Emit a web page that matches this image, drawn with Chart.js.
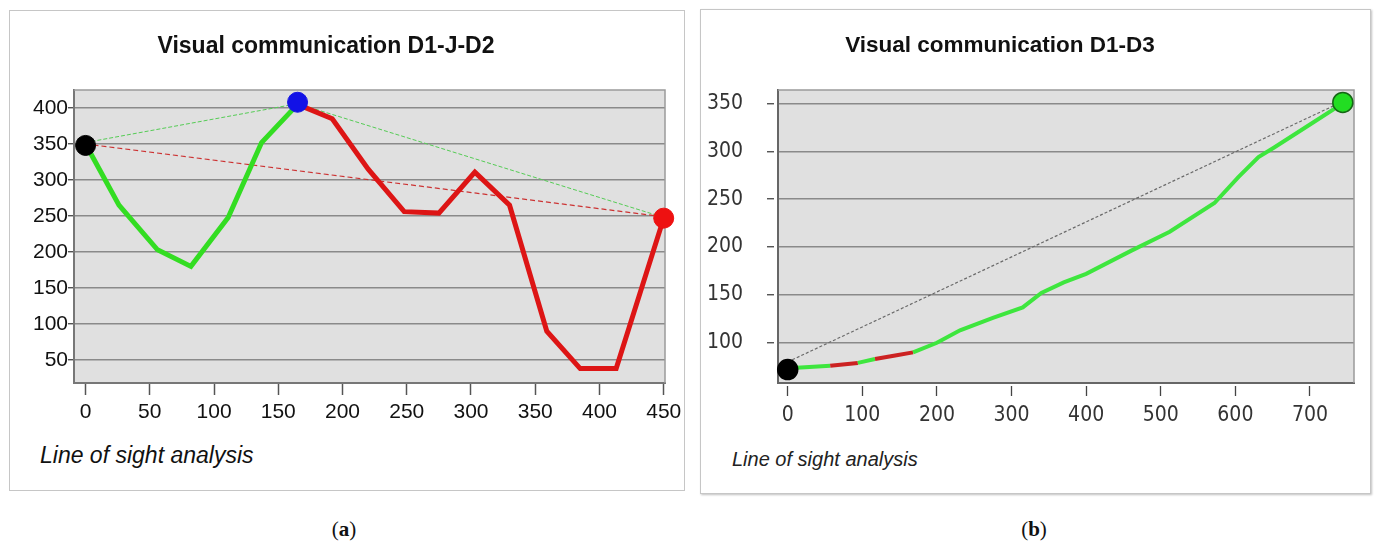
<!DOCTYPE html>
<html><head><meta charset="utf-8">
<script src="https://cdn.jsdelivr.net/npm/chart.js@4.4.1/dist/chart.umd.min.js"></script>
<style>
html,body{margin:0;padding:0;background:#fff;width:1378px;height:547px;overflow:hidden;font-family:'Liberation Sans',Arial,sans-serif;}
.frame{position:absolute;border:1px solid #c6c6c6;box-sizing:border-box;background:#fff;}
#fa{left:9px;top:10px;width:676px;height:481px;}
#fb{left:700px;top:9px;width:671px;height:485px;box-shadow:1px 1px 2px #c0c0c0;}
canvas{position:absolute;}
#ca{left:10px;top:11px;}
#cb{left:701px;top:11px;}
.t{position:absolute;white-space:nowrap;color:#111;line-height:1;}
.title{font-weight:bold;transform:translateX(-50%);}
#ta{left:326px;top:34px;font-size:23px;}
#tb{left:1000px;top:34px;font-size:22.5px;}
#la{left:40px;top:444px;font-size:23px;font-style:italic;}
#lb{left:732px;top:449px;font-size:20px;font-style:italic;color:#222;}
.cap{font-family:'Liberation Serif','Times New Roman',serif;font-size:21px;transform:translateX(-50%);top:519px;}
.cap b{font-weight:bold;}
#capa{left:344px;}
#capb{left:1034px;}
</style></head>
<body>
<div class="frame" id="fa"></div>
<div class="frame" id="fb"></div>
<canvas id="ca" width="676" height="420"></canvas>
<canvas id="cb" width="668" height="420"></canvas>
<div class="t title" id="ta">Visual communication D1-J-D2</div>
<div class="t title" id="tb">Visual communication D1-D3</div>
<div class="t" id="la">Line of sight analysis</div>
<div class="t" id="lb">Line of sight analysis</div>
<div class="t cap" id="capa">(<b>a</b>)</div>
<div class="t cap" id="capb">(<b>b</b>)</div>
<script>
// ---------- Panel (a): D1-J-D2 ----------
const aDist    = [0, 26, 56, 82, 111, 137, 165, 192, 220, 248, 275, 303, 330, 359, 385, 413, 450];
const aElev    = [350, 265, 203, 180, 248, 352, 405, 385, 315, 256, 254, 311, 265, 90, 38, 38, 247];
const aVisible = [1, 1, 1, 1, 1, 1, 0, 0, 0, 0, 0, 0, 0, 0, 0, 0]; // per segment
const aSightGreenX = [0, 165, 450];
const aSightGreenY = [352, 406, 248];
const aSightRedX = [0, 445];
const aSightRedY = [350, 250];
const aMarkX = [0, 165, 450];
const aMarkY = [348, 408, 247];
const aMarkColor = ['#000000', '#1212e6', '#ee1111'];
const aXTicks = [0, 50, 100, 150, 200, 250, 300, 350, 400, 450];
const aYTicks = [50, 100, 150, 200, 250, 300, 350, 400];

// ---------- Panel (b): D1-D3 ----------
const bDist    = [0, 12, 57, 94, 117, 146, 168, 200, 231, 275, 315, 340, 370, 400, 460, 512, 572, 604, 631, 652, 700, 744];
const bElev    = [73, 74, 76, 79, 83, 87, 90, 100, 113, 126, 137, 152, 163, 172, 196, 216, 246, 273, 294, 304, 328, 350];
const bVisible = [1, 1, 0, 1, 0, 0, 1, 1, 1, 1, 1, 1, 1, 1, 1, 1, 1, 1, 1, 1, 1];
const bSightX = [0, 744];
const bSightY = [80, 352];
const bMarkX = [0, 744];
const bMarkY = [72, 351];
const bMarkColor = ['#000000', '#22dd22'];
const bMarkBorder = ['#000000', '#156615'];
const bXTicks = [0, 100, 200, 300, 400, 500, 600, 700];
const bYTicks = [100, 150, 200, 250, 300, 350];

const pts = (xs, ys) => xs.map((x, i) => ({x: x, y: ys[i]}));
const setTicks = list => scale => { scale.ticks = list.map(v => ({value: v})); };

const plotFrame = {
  id: 'plotFrame',
  beforeDraw(chart) {
    const a = chart.chartArea, c = chart.ctx;
    c.save();
    c.fillStyle = '#e0e0e0';
    c.fillRect(a.left, a.top, a.right - a.left, a.bottom - a.top);
    c.restore();
  },
  beforeDatasetsDraw(chart) {
    const a = chart.chartArea, c = chart.ctx;
    c.save();
    c.strokeStyle = '#9a9a9a';
    c.lineWidth = 1.5;
    c.beginPath();
    c.moveTo(a.left, a.top); c.lineTo(a.right, a.top); c.lineTo(a.right, a.bottom);
    c.stroke();
    c.restore();
  }
};

const common = {
  responsive: false,
  devicePixelRatio: 1,
  animation: false,
  events: [],
  plugins: {legend: {display: false}, tooltip: {enabled: false}, title: {display: false}},
};

const fitX = h => s => { s.height = h; s.paddingLeft = 0; s.paddingRight = 0; };

// Chart (a)
const aGreen = '#33dd22', aRed = '#dd1515';
const fontA = {family: "'Liberation Sans', Arial, sans-serif", size: 21};
new Chart(document.getElementById('ca'), {
  type: 'line',
  data: {
    datasets: [
      {data: pts(aMarkX, aMarkY), showLine: false, pointRadius: 10, pointBackgroundColor: aMarkColor,
       pointBorderColor: aMarkColor, pointBorderWidth: 1, clip: false, order: 0},
      {data: pts(aDist, aElev), borderWidth: 5, pointRadius: 0, borderJoinStyle: 'miter', tension: 0,
       borderColor: aGreen,
       segment: {borderColor: ctx => aVisible[ctx.p0DataIndex] ? aGreen : aRed}, order: 1},
      {data: pts(aSightGreenX, aSightGreenY), borderWidth: 1, borderColor: '#55cc55', borderDash: [4, 2],
       pointRadius: 0, order: 2},
      {data: pts(aSightRedX, aSightRedY), borderWidth: 1.2, borderColor: '#cc3333', borderDash: [5, 3],
       pointRadius: 0, order: 3}
    ]
  },
  options: Object.assign({}, common, {
    layout: {padding: {top: 79, right: 21, left: 0, bottom: 0}},
    scales: {
      x: {type: 'linear', min: -9, max: 451,
          afterBuildTicks: setTicks(aXTicks),
          afterFit: fitX(48),
          grid: {drawOnChartArea: false, drawTicks: true, tickLength: 12, tickColor: '#555', tickWidth: 1.5},
          border: {color: '#777', width: 2},
          ticks: {padding: 5, color: '#111', maxRotation: 0, autoSkip: false, font: fontA}},
      y: {type: 'linear', min: 18, max: 425,
          afterBuildTicks: setTicks(aYTicks),
          afterFit: s => { s.width = 64; },
          grid: {color: '#8a8a8a', lineWidth: 1.5, drawTicks: true, tickLength: 6, tickColor: '#333', tickWidth: 1.2},
          border: {color: '#777', width: 2},
          ticks: {padding: 0, color: '#111', autoSkip: false, font: fontA}}
    }
  }),
  plugins: [plotFrame]
});

// Chart (b)
const bGreen = '#3ee63e', bRed = '#cc2222';
const fontB = {family: "'Liberation Sans Narrow', 'DejaVu Sans Condensed', 'Liberation Sans', Arial, sans-serif", size: 21};
new Chart(document.getElementById('cb'), {
  type: 'line',
  data: {
    datasets: [
      {data: pts(bMarkX, bMarkY), showLine: false, pointRadius: 10, pointBackgroundColor: bMarkColor,
       pointBorderColor: bMarkBorder, pointBorderWidth: 1.5, clip: false, order: 0},
      {data: pts(bDist, bElev), borderWidth: 4, pointRadius: 0, tension: 0,
       borderColor: bGreen,
       segment: {borderColor: ctx => bVisible[ctx.p0DataIndex] ? bGreen : bRed}, order: 1},
      {data: pts(bSightX, bSightY), borderWidth: 1.2, borderColor: '#6a6a6a', borderDash: [3, 2],
       pointRadius: 0, order: 2}
    ]
  },
  options: Object.assign({}, common, {
    layout: {padding: {top: 79, right: 15, left: 0, bottom: 0}},
    scales: {
      x: {type: 'linear', min: -13, max: 759,
          afterBuildTicks: setTicks(bXTicks),
          afterFit: fitX(48),
          grid: {drawOnChartArea: false, drawTicks: true, tickLength: 13, tickColor: '#444', tickWidth: 1.3,
                 tickBorderDash: [0, 2, 11, 40]},
          border: {color: '#666', width: 2},
          ticks: {padding: 7, color: '#333', maxRotation: 0, autoSkip: false, font: fontB}},
      y: {type: 'linear', min: 58, max: 364,
          afterBuildTicks: setTicks(bYTicks),
          afterFit: s => { s.width = 77; },
          grid: {color: '#8a8a8a', lineWidth: 1.5, drawTicks: true, tickLength: 11, tickColor: '#444', tickWidth: 1.3,
                 tickBorderDash: [7, 40]},
          border: {color: '#666', width: 2},
          ticks: {padding: 24, color: '#333', autoSkip: false, font: fontB}}
    }
  }),
  plugins: [plotFrame]
});
</script>
</body></html>
